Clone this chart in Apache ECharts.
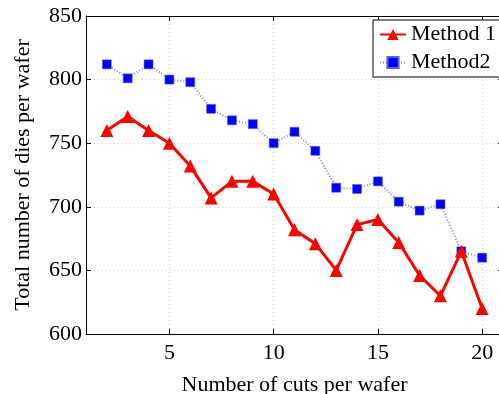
<!DOCTYPE html>
<html>
<head>
<meta charset="utf-8">
<script src="https://cdn.jsdelivr.net/npm/echarts@6/dist/echarts.min.js"></script>
<style>html,body{margin:0;padding:0;background:#fff}#c{width:499px;height:394px}</style>
</head>
<body>
<div id="c"></div>
<script>
const cuts = [2,3,4,5,6,7,8,9,10,11,12,13,14,15,16,17,18,19,20];
const method1 = [760,771,760,750,732,707,720,720,710,682,671,650,686,690,672,646,630,665,620];
const method2 = [812,801,812,800,798,777,768,765,750,759,744,715,714,720,704,697,702,665,660];
const xTicks = [5,10,15,20];
const seriesNames = ['Method 1','Method2'];
const xTitle = 'Number of cuts per wafer';
const yTitle = 'Total number of dies per wafer';

const font = 'Liberation Serif';
const pairs = arr => cuts.map((x,i)=>[x,arr[i]]);
const gridLine = {show:true, lineStyle:{color:'#d0d0d0', type:[1,3], width:1}};
const tickIn = {show:true, inside:true, length:5, lineStyle:{color:'#000'}};

const chart = echarts.init(document.getElementById('c'), null, {renderer:'canvas'});
chart.setOption({
  animation:false,
  backgroundColor:'#fff',
  grid:{left:86, top:16, right:-4, bottom:60, containLabel:false, outerBoundsMode:'none'},
  legend:{
    orient:'vertical', left:373, top:20, width:125,
    padding:[3,6,3,6], itemGap:5, itemWidth:26, itemHeight:14,
    borderColor:'#000', borderWidth:1, backgroundColor:'#fff',
    textStyle:{fontFamily:font, fontSize:22, color:'#000', lineHeight:23},
    data:seriesNames
  },
  xAxis:[{
    type:'value', min:1, max:21, position:'bottom',
    axisLine:{show:true, lineStyle:{color:'#000', width:1}},
    axisTick:Object.assign({customValues:xTicks}, tickIn),
    axisLabel:{customValues:xTicks, fontFamily:font, fontSize:22, color:'#000', margin:8},
    splitLine:gridLine,
    name:xTitle, nameLocation:'middle', nameGap:40,
    nameTextStyle:{fontFamily:font, fontSize:22, color:'#000'}
  },{
    type:'value', min:1, max:21, position:'top',
    axisLine:{show:true, lineStyle:{color:'#000', width:1}},
    axisTick:Object.assign({customValues:xTicks}, tickIn),
    axisLabel:{show:false, customValues:xTicks},
    splitLine:{show:false}
  }],
  yAxis:[{
    type:'value', min:600, max:850, interval:50, position:'left',
    axisLine:{show:true, lineStyle:{color:'#000', width:1}},
    axisTick:tickIn,
    axisLabel:{fontFamily:font, fontSize:22, color:'#000', margin:4},
    splitLine:gridLine,
    name:yTitle, nameLocation:'middle', nameGap:52,
    nameTextStyle:{fontFamily:font, fontSize:22, color:'#000'}
  },{
    type:'value', min:600, max:850, interval:50, position:'right',
    axisLine:{show:true, lineStyle:{color:'#000', width:1}},
    axisTick:tickIn,
    axisLabel:{show:false},
    splitLine:{show:false}
  }],
  series:[{
    name:seriesNames[0], type:'line', data:pairs(method1),
    symbol:'triangle', symbolSize:13,
    lineStyle:{color:'#ff0000', width:3},
    itemStyle:{color:'#ff0000'},
    z:3
  },{
    name:seriesNames[1], type:'line', data:pairs(method2),
    symbol:'rect', symbolSize:9,
    lineStyle:{color:'#7f7fff', width:2, type:[1,2]},
    itemStyle:{color:'#0000ff', borderColor:'#5a5aff', borderWidth:0.5},
    z:2
  }]
});
</script>
</body>
</html>
